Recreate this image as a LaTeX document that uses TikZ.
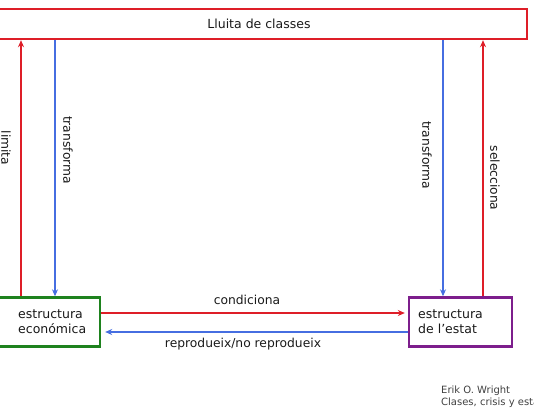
\documentclass[tikz,border=0pt]{standalone}
\usepackage{fontspec}
\setmainfont{DejaVu Sans}
\usetikzlibrary{arrows.meta}
\definecolor{cred}{RGB}{222,30,40}
\definecolor{cblue}{RGB}{70,110,225}
\definecolor{cgreen}{RGB}{30,130,30}
\definecolor{cpurple}{RGB}{125,30,140}
\begin{document}
\begin{tikzpicture}[x=1pt,y=-1pt,
  lbl/.style={font=\fontsize{12.3}{14}\selectfont, inner sep=0pt, text=black!90},
  boxtxt/.style={font=\fontsize{12.5}{15}\selectfont, align=left, inner sep=0pt, text=black!90},
  redarr/.style={draw=cred, line width=2.2pt, -{Stealth[length=7pt,width=6pt]}},
  bluearr/.style={draw=cblue, line width=2pt, -{Stealth[length=7pt,width=6pt]}}]
\useasboundingbox (0,0) rectangle (534,418);
\node[draw=cred, line width=2.4pt, minimum width=536pt, minimum height=30pt, inner sep=0pt, font=\fontsize{12.5}{14}\selectfont, text=black!90] (top) at (259,24) {Lluita de classes};
\node[draw=cgreen, line width=2.4pt, minimum width=104pt, minimum height=49pt, inner sep=0pt] (eco) at (48,322) {};
\node[boxtxt, anchor=west] (ecot) at (18,322) {estructura\\econ\'omica};
\node[draw=cpurple, line width=2.4pt, minimum width=103pt, minimum height=49pt, inner sep=0pt] (estat) at (460.5,322) {};
\node[boxtxt, anchor=west] (estatt) at (418,322) {estructura\\de l’estat};
\coordinate (xlim) at (21,0);
\coordinate (xtl) at (55,0);
\coordinate (xtr) at (443,0);
\coordinate (xsel) at (483,0);
\draw[redarr] (eco.north -| xlim) -- (top.south -| xlim);
\draw[bluearr] (top.south -| xtl) -- (eco.north -| xtl);
\draw[bluearr] (top.south -| xtr) -- (estat.north -| xtr);
\draw[redarr] (estat.north -| xsel) -- (top.south -| xsel);
\coordinate (ycond) at (0,313);
\coordinate (yrep) at (0,332);
\draw[redarr] (eco.east |- ycond) -- ([xshift=-3pt]estat.west |- ycond);
\draw[bluearr] (estat.west |- yrep) -- ([xshift=4pt]eco.east |- yrep);
\node[lbl] (lcond) at (247,300) {condiciona};
\node[lbl] (lrep) at (243,344) {reprodueix/no reprodueix};
\node[lbl, rotate=-90] (llim) at (6,148) {limita};
\node[lbl, rotate=-90] (ltl) at (68,150) {transforma};
\node[lbl, rotate=-90] (ltr) at (427,155) {transforma};
\node[lbl, rotate=-90] (lsel) at (495,178) {selecciona};
\node[anchor=west, align=left, inner sep=0pt, text=black!75, font=\fontsize{10}{12}\selectfont] (attr) at (441,397) {Erik O. Wright\\Clases, crisis y estado};
\end{tikzpicture}
\end{document}
